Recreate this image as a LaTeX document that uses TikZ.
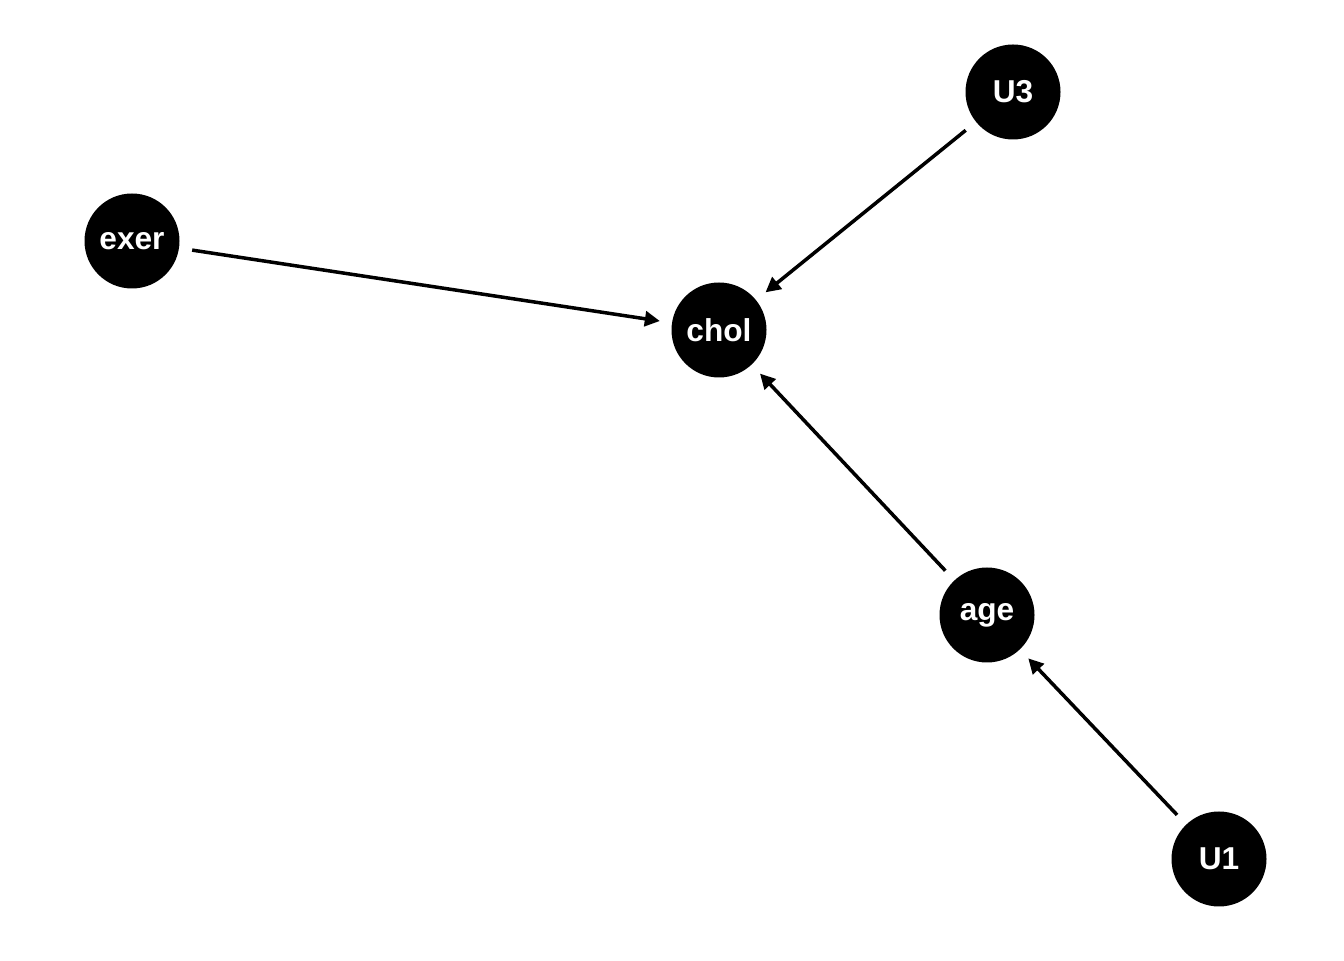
\documentclass[tikz,border=0pt]{standalone}
\usepackage{fontspec}
\setmainfont{Liberation Sans}
\usetikzlibrary{arrows.meta}
\tikzset{
	var/.style={circle,fill=black,text=white,minimum size=1.9cm,inner sep=0pt,font=\fontsize{18}{21}\selectfont\bfseries},
	edge/.style={line width=2pt,-{Triangle[length=0.3cm,width=0.3cm]},shorten >=0.24cm,shorten <=0.26cm}
}
\begin{document}
\begin{tikzpicture}
				\useasboundingbox (0,0) rectangle (26.88,19.2);
				\node[var] (exer) at (2.64,14.38) {exer};
				\node[var] (chol) at (14.38,12.6) {chol};
				\node[var] (U3) at (20.26,17.36) {U3};
				\node[var] (age) at (19.74,6.9) {age};
				\node[var] (U1) at (24.38,2.02) {U1};
				\draw[edge] (exer) -- (chol);
				\draw[edge] (U3) -- (chol);
				\draw[edge] (age) -- (chol);
				\draw[edge] (U1) -- (age);
			\end{tikzpicture}
\end{document}
